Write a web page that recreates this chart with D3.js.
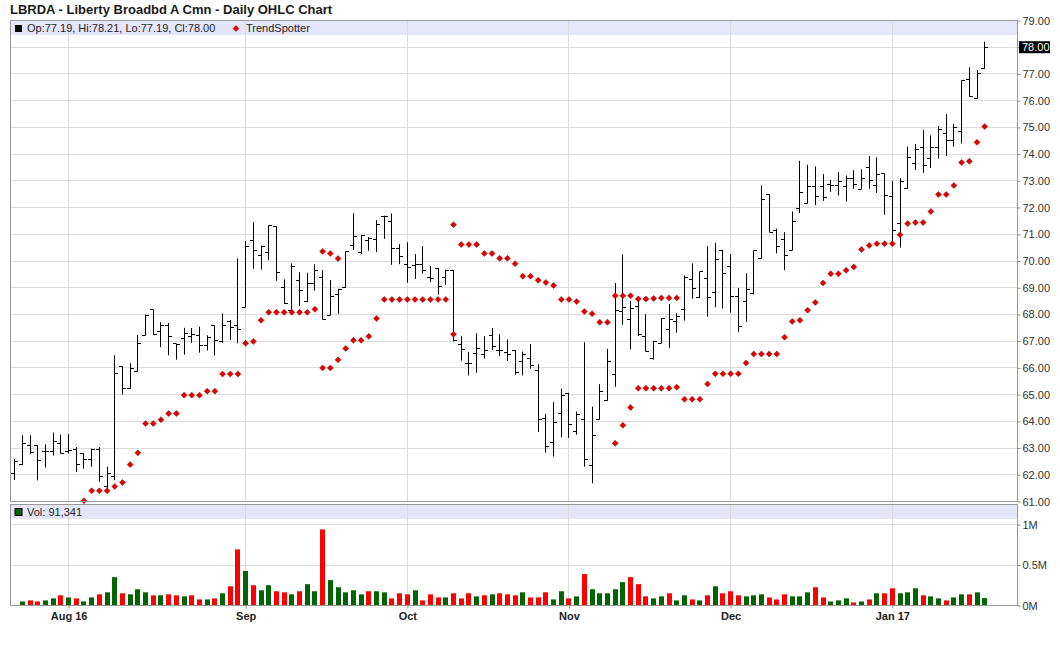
<!DOCTYPE html>
<html>
<head>
<meta charset="utf-8">
<script src="https://cdn.jsdelivr.net/npm/d3@7"></script>
<style>
  body { margin: 0; background: #fff; }
  svg { font-family: "Liberation Sans", Arial, sans-serif; }
</style>
</head>
<body>
<div id="chart"></div>
<script>
// Daily bars, 21 Jul 2016 - 20 Jan 2017 (one entry per trading day)
var opens = [62.05,62.37,63.08,63.08,62.87,62.87,63.17,62.87,62.95,62.8,62.58,62.95,61.58,61.95,66.06,65.22,65.85,67.22,68.17,67.36,
  67.59,66.9,67.1,67.19,67.22,66.84,67.59,66.97,67.72,67.59,68.26,70.78,70.21,70.33,71.3,68.99,68.16,69.26,68.48,69.16,
  69.38,67.97,68.74,68.99,70.58,70.31,70.78,70.8,71.68,71.48,70.46,69.88,69.83,69.88,69.38,69.73,69.38,69.66,66.87,66.17,
  66.52,66.5,67.22,66.66,66.56,66.64,66.24,66.36,65.92,64.1,63.2,64.3,65.04,63.62,64.07,62.35,64.07,64.77,65.74,68.11,
  67.81,68.28,67.19,66.34,66.92,67.42,67.72,68.19,69.29,68.62,69.36,68.82,70.41,69.81,68.67,68.49,68.77,70.09,72.5,71.16,
  70.81,70.41,71.95,72.15,72.77,72.8,72.88,72.83,72.8,73.1,72.68,73.5,72.83,73.28,72.43,71.4,72.73,73.63,74.25,73.85,
  74.23,74.78,74.5,74.85,76.78,76.08,77.19];
var highs = [62.6,63.48,63.48,63.1,63.14,63.58,63.5,63.52,63.04,62.8,62.98,63.04,62.3,66.47,66.06,66.18,67.23,68.0,68.17,67.71,
  67.68,66.9,67.5,67.49,67.54,67.22,67.59,68.04,67.79,70.1,70.75,71.45,70.58,71.33,71.3,69.31,69.91,69.58,69.56,69.88,
  69.66,69.29,68.96,70.36,71.78,70.98,70.9,71.53,71.7,71.78,70.63,70.7,70.26,70.56,69.81,69.73,69.68,69.66,67.19,66.6,
  67.29,67.19,67.49,67.26,67.06,66.66,66.61,66.89,66.14,64.27,64.72,65.22,65.07,64.37,66.96,64.55,65.39,66.71,69.18,70.25,
  68.51,68.66,68.01,67.01,67.87,68.39,68.04,69.46,69.91,69.59,70.56,70.68,70.41,70.26,68.99,69.54,70.38,72.83,72.5,71.21,
  71.08,71.85,73.75,73.6,73.54,73.25,73.03,73.33,73.2,73.4,73.43,73.93,73.88,73.28,73.0,73.1,74.28,74.38,74.9,74.7,
  75.05,75.5,75.13,76.75,77.25,77.15,78.21];
var lows = [61.8,62.37,62.77,61.79,62.27,62.72,62.8,62.8,62.1,62.23,62.3,61.74,61.3,61.8,65.01,65.22,65.85,67.22,67.24,66.78,
  66.47,66.31,66.5,66.94,66.57,66.65,66.47,66.94,67.04,66.92,68.26,69.71,69.68,70.03,69.26,68.39,68.16,68.31,68.46,68.89,
  67.82,67.97,68.02,68.99,70.41,70.26,70.38,70.33,70.83,69.86,69.88,69.19,69.33,69.53,69.21,68.74,69.11,66.99,66.27,65.72,
  65.82,66.35,66.67,66.44,66.26,65.74,65.72,65.97,63.6,62.83,62.68,63.4,63.38,63.5,62.3,61.68,64.07,64.77,65.29,67.61,
  66.69,67.19,66.61,66.31,66.92,66.75,67.32,67.77,68.59,68.62,67.92,68.27,68.22,68.07,67.35,67.72,68.74,70.09,71.08,70.29,
  69.66,70.41,71.8,72.15,72.09,72.25,72.58,72.45,72.23,72.7,72.68,72.7,72.55,71.73,70.65,70.5,72.7,73.4,73.3,73.48,
  73.83,73.93,74.28,74.4,76.15,76.08,77.19];
var closes = [62.5,63.17,62.82,62.53,62.87,63.24,62.8,62.92,62.4,62.58,62.95,61.95,62.05,65.78,65.22,65.97,66.9,67.96,67.24,67.59,
  67.18,66.87,67.3,67.25,66.84,67.12,67.04,67.59,67.52,67.44,70.56,70.41,70.56,71.33,69.58,68.41,69.78,68.91,69.16,69.63,
  67.82,68.66,68.94,70.36,70.93,70.95,70.85,71.38,71.68,70.46,70.18,69.76,69.88,69.63,69.33,69.06,69.66,67.04,66.67,66.15,
  66.72,66.65,66.79,66.66,66.49,65.84,66.51,66.09,64.05,63.05,63.97,64.97,63.9,64.25,62.58,63.47,65.12,66.24,68.13,68.26,
  68.21,67.24,66.61,66.99,67.84,67.82,67.94,69.39,68.97,69.59,68.64,70.06,69.54,68.67,67.55,68.94,70.38,72.3,71.08,70.56,
  70.19,71.48,72.58,72.8,72.42,72.38,72.83,72.98,73.1,72.88,73.1,73.03,73.25,72.45,71.15,72.98,73.88,74.18,73.58,74.25,
  74.93,74.5,75.0,76.75,76.15,77.03,78.0];
var volumes = [0,50000,63000,50000,63000,88000,126000,100000,88000,50000,100000,138000,163000,351000,151000,138000,201000,163000,126000,126000,
  138000,126000,113000,126000,75000,75000,88000,151000,238000,695000,427000,251000,188000,251000,176000,163000,138000,176000,264000,176000,
  941000,314000,226000,163000,188000,138000,176000,176000,163000,88000,151000,138000,188000,63000,138000,100000,100000,151000,88000,151000,
  113000,126000,138000,151000,138000,126000,163000,100000,100000,163000,75000,176000,88000,113000,389000,201000,151000,151000,201000,289000,
  351000,264000,113000,88000,113000,151000,63000,126000,75000,63000,126000,238000,151000,176000,126000,113000,126000,138000,100000,75000,
  138000,113000,113000,163000,226000,100000,50000,63000,88000,38000,50000,75000,151000,151000,213000,151000,163000,213000,126000,113000,
  88000,63000,100000,138000,138000,163000,91341];
// TrendSpotter stops (null = no marker)
var trend = [null,null,null,null,null,null,null,null,null,61.03,61.4,61.4,61.4,61.56,61.71,62.38,62.82,63.92,63.92,64.06,
  64.29,64.29,64.98,64.98,64.98,65.13,65.13,65.77,65.77,65.77,66.92,66.99,67.78,68.08,68.08,68.08,68.08,68.08,68.08,68.19,
  66.0,66.0,66.3,66.73,67.03,67.03,67.18,67.85,68.56,68.56,68.56,68.56,68.56,68.56,68.56,68.56,68.56,71.36,70.62,70.62,
  70.62,70.28,70.28,70.1,70.1,69.9,69.43,69.43,69.28,69.2,69.08,68.56,68.56,68.48,68.11,68.03,67.71,67.71,63.18,63.85,
  64.52,65.24,65.24,65.24,65.24,65.24,65.28,64.83,64.83,64.83,65.4,65.78,65.78,65.78,65.78,66.18,66.52,66.52,66.52,66.52,
  67.15,67.74,67.78,68.16,68.45,69.18,69.52,69.52,69.65,69.78,70.43,70.58,70.65,70.65,70.65,70.98,71.4,71.44,71.44,71.85,
  72.49,72.49,72.83,73.69,73.73,74.44,75.03];
// second marker on days where the old and new stop are both shown
var trendAltIdx = [40, 41, 42, 57, 78, 79, 80, 81, 82, 83, 84, 85, 86];
var trendAltVal = [70.36, 70.28, 70.09, 67.26, 68.7, 68.7, 68.7, 68.58, 68.58, 68.6, 68.62, 68.62, 68.62];

// month gridlines: first trading day of each month
var monthIdx = [7, 30, 51, 72, 93, 114];
var monthLabels = ['Aug 16', 'Sep', 'Oct', 'Nov', 'Dec', 'Jan 17'];
var priceTicks = [61, 62, 63, 64, 65, 66, 67, 68, 69, 70, 71, 72, 73, 74, 75, 76, 77, 78, 79];
var volTicks = [0, 500000, 1000000];

var svgWidth = 1060;
var svgHeight = 645;

var panel = { left: 10.5, right: 1017.5, top: 20.5, bottom: 501.5 };
var volPanel = { top: 504.5, bottom: 605.5 };

var gridColor = '#dcdcdc';
var borderColor = '#999';
var bandColor = '#e6e6fa';
var upColor = '#006400';
var downColor = '#ff0000';

var svg = d3.select('#chart')
  .append('svg')
  .attr('width', svgWidth)
  .attr('height', svgHeight);

var last = closes.length - 1;
var fmt2 = d3.format('.2f');

// scales
var x = d3.scaleLinear().domain([0, last]).range([14.7, 984.7]);
var y = d3.scaleLinear().domain([61, 79]).range([panel.bottom, panel.top]);
var yVol = d3.scaleLinear().domain([0, 1000000]).range([volPanel.bottom, 524.7]);

function crisp(v) {
  return Math.round(v - 0.5) + 0.5;
}

// title
svg.append('text')
  .attr('x', 10)
  .attr('y', 14)
  .style('font-size', '13px')
  .style('font-weight', 'bold')
  .attr('fill', '#1a1a1a')
  .text('LBRDA - Liberty Broadbd A Cmn - Daily OHLC Chart');

// header bands
svg.append('rect')
  .attr('x', panel.left).attr('y', panel.top)
  .attr('width', panel.right - panel.left).attr('height', 14.5)
  .attr('fill', bandColor);

svg.append('rect')
  .attr('x', panel.left).attr('y', volPanel.top)
  .attr('width', panel.right - panel.left).attr('height', 14.5)
  .attr('fill', bandColor);

// gridlines
var grid = svg.append('g').attr('stroke', gridColor).attr('stroke-width', 1);

grid.selectAll('.hgrid')
  .data(priceTicks)
  .enter()
  .append('line')
  .attr('x1', panel.left).attr('x2', panel.right)
  .attr('y1', (d) => crisp(y(d))).attr('y2', (d) => crisp(y(d)));

grid.selectAll('.vgrid')
  .data(volTicks.slice(1))
  .enter()
  .append('line')
  .attr('x1', panel.left).attr('x2', panel.right)
  .attr('y1', (d) => crisp(yVol(d))).attr('y2', (d) => crisp(yVol(d)));

monthIdx.forEach(function (m) {
  var gx = crisp(x(m));
  grid.append('line').attr('x1', gx).attr('x2', gx).attr('y1', panel.top).attr('y2', panel.bottom);
  grid.append('line').attr('x1', gx).attr('x2', gx).attr('y1', volPanel.top).attr('y2', volPanel.bottom);
});

// legend rows
svg.append('rect').attr('x', 15).attr('y', 25).attr('width', 7).attr('height', 7).attr('fill', '#000');
svg.append('text')
  .attr('x', 27).attr('y', 32)
  .style('font-size', '11px')
  .attr('fill', '#222')
  .text('Op:' + fmt2(opens[last]) + ', Hi:' + fmt2(highs[last]) + ', Lo:' + fmt2(lows[last]) + ', Cl:' + fmt2(closes[last]));

function diamond(cx, cy) {
  return 'M' + cx + ',' + (cy - 3) + 'L' + (cx + 3) + ',' + cy + 'L' + cx + ',' + (cy + 3) + 'L' + (cx - 3) + ',' + cy + 'Z';
}

svg.append('path').attr('d', diamond(236, 28.5)).attr('fill', '#e00000').attr('stroke', '#900').attr('stroke-width', 0.5);
svg.append('text')
  .attr('x', 246).attr('y', 32)
  .style('font-size', '11px')
  .attr('fill', '#222')
  .text('TrendSpotter');

svg.append('rect').attr('x', 15).attr('y', 508.5).attr('width', 7).attr('height', 7)
  .attr('fill', upColor).attr('stroke', '#000').attr('stroke-width', 1);
svg.append('text')
  .attr('x', 27).attr('y', 516)
  .style('font-size', '11px')
  .attr('fill', '#222')
  .text('Vol: ' + d3.format(',')(volumes[last]));

// OHLC bars
var barGroup = svg.append('g').attr('stroke', '#000').attr('stroke-width', 1);
closes.forEach(function (c, i) {
  var bx = crisp(x(i));
  barGroup.append('line').attr('x1', bx).attr('x2', bx).attr('y1', y(highs[i])).attr('y2', y(lows[i]));
  barGroup.append('line').attr('x1', bx - 3.5).attr('x2', bx).attr('y1', crisp(y(opens[i]))).attr('y2', crisp(y(opens[i])));
  barGroup.append('line').attr('x1', bx).attr('x2', bx + 3.5).attr('y1', crisp(y(c))).attr('y2', crisp(y(c)));
});

// TrendSpotter markers
var dotGroup = svg.append('g').attr('fill', '#e00000').attr('stroke', '#900').attr('stroke-width', 0.5);
trend.forEach(function (t, i) {
  if (t === null) return;
  dotGroup.append('path').attr('d', diamond(x(i), y(t)));
});
trendAltIdx.forEach(function (i, k) {
  dotGroup.append('path').attr('d', diamond(x(i), y(trendAltVal[k])));
});

// volume bars
svg.append('g')
  .selectAll('rect')
  .data(volumes)
  .enter()
  .append('rect')
  .attr('x', (d, i) => Math.round(x(i) - 2.5))
  .attr('y', (d) => yVol(d))
  .attr('width', 5)
  .attr('height', (d) => volPanel.bottom - yVol(d))
  .attr('fill', (d, i) => (i > 0 && closes[i] < closes[i - 1] ? downColor : upColor));

// price axis (right)
var priceAxis = svg.append('g')
  .attr('transform', `translate(${panel.right}, 0)`)
  .call(d3.axisRight(y).tickValues(priceTicks).tickFormat(fmt2).tickSize(3).tickPadding(2));

// volume axis (right)
var volAxis = svg.append('g')
  .attr('transform', `translate(${panel.right}, 0)`)
  .call(d3.axisRight(yVol).tickValues(volTicks)
    .tickFormat((d) => (d === 0 ? '0M' : d / 1000000 + 'M'))
    .tickSize(3).tickPadding(2));

// month axis (bottom)
var monthAxis = svg.append('g')
  .attr('transform', `translate(0, ${volPanel.bottom})`)
  .call(d3.axisBottom(x).tickValues(monthIdx)
    .tickFormat((d, i) => monthLabels[i])
    .tickSize(3).tickPadding(4));

[priceAxis, volAxis, monthAxis].forEach(function (ax) {
  ax.select('.domain').remove();
  ax.selectAll('line').attr('stroke', '#888');
  ax.selectAll('text')
    .style('font-size', '11px')
    .style('font-family', '"Liberation Sans", Arial, sans-serif')
    .attr('fill', '#333');
});
monthAxis.selectAll('text').style('font-weight', 'bold').attr('fill', '#222');

// last close marker
var lastY = y(closes[last]);
svg.append('rect')
  .attr('x', 1019).attr('y', lastY - 6)
  .attr('width', 31).attr('height', 12)
  .attr('fill', '#000');
svg.append('text')
  .attr('x', 1022).attr('y', lastY + 4)
  .style('font-size', '11px')
  .attr('fill', '#fff')
  .text(fmt2(closes[last]));

// panel borders
svg.append('rect')
  .attr('x', panel.left).attr('y', panel.top)
  .attr('width', panel.right - panel.left).attr('height', panel.bottom - panel.top)
  .attr('fill', 'none').attr('stroke', borderColor);
svg.append('rect')
  .attr('x', panel.left).attr('y', volPanel.top)
  .attr('width', panel.right - panel.left).attr('height', volPanel.bottom - volPanel.top)
  .attr('fill', 'none').attr('stroke', borderColor);
</script>
</body>
</html>
